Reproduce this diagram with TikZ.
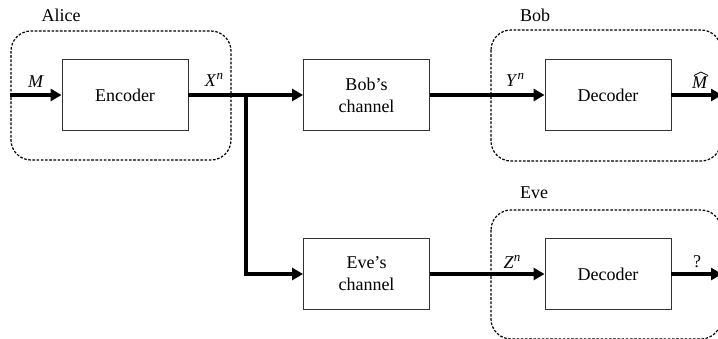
\documentclass[tikz,border=0pt]{standalone}
\usepackage{fontspec}
\setmainfont{Liberation Serif}
\usetikzlibrary{arrows.meta}
\newcommand{\supn}[1]{\textit{#1}\raisebox{6.5pt}{\fontsize{13}{13}\selectfont\textit{n}}}
\begin{document}
\begin{tikzpicture}[x=1pt,y=-1pt,
  every node/.style={font=\fontsize{18}{22}\selectfont},
  blk/.style={draw=black!80,line width=0.9pt,minimum width=126pt,minimum height=71pt,inner sep=0pt,align=center},
  conn/.style={line width=3.2pt,-{Triangle[length=11pt,width=12pt]}},
  grp/.style={draw,line width=1.2pt,rounded corners=20pt,dash pattern=on 2.6pt off 1.6pt},
  lbl/.style={inner sep=0pt}]
\useasboundingbox (0,0) rectangle (718,338);
\clip (0,0) rectangle (718,338);
% groups
\draw[grp] (11,31) rectangle (231,160);
\draw[grp] (491,30) rectangle (721,161);
\draw[grp] (491,210) rectangle (721,339);
\node[lbl] (alice) at (61,15) {Alice};
\node[lbl] (bob) at (535,15) {Bob};
\node[lbl] (eve) at (534,193) {Eve};
% blocks
\node[blk] (enc) at (125,95) {Encoder};
\node[blk] (bch) at (366.5,95) {Bob's\\channel};
\node[blk] (dec1) at (608,95) {Decoder};
\node[blk] (ech) at (366.5,274) {Eve's\\channel};
\node[blk] (dec2) at (608,274) {Decoder};
% connectors
\coordinate (in) at (10,95);
\coordinate (br) at (246,95);
\coordinate (out1) at (722,95);
\coordinate (out2) at (722,274);
\draw[conn] (in) -- (enc.west);
\draw[conn] (enc.east) -- (bch.west);
\draw[conn] (br) |- (ech.west);
\draw[conn] (bch.east) -- (dec1.west);
\draw[conn] (ech.east) -- (dec2.west);
\draw[conn] (dec1.east) -- (out1);
\draw[conn] (dec2.east) -- (out2);
% signal labels
\node[lbl] (lm) at (36,82) {\textit{M}};
\node[lbl] (lx) at (214,80) {\supn{X}};
\node[lbl] (ly) at (515,80) {\supn{Y}};
\node[lbl] (lmh) at (700,83) {\textit{M}};
\draw[line width=0.7pt] (694,75.5) -- (701,72) -- (708,75.5);
\node[lbl] (lz) at (512,262) {\supn{Z}};
\node[lbl] (lq) at (697,262) {?};
\end{tikzpicture}
\end{document}
